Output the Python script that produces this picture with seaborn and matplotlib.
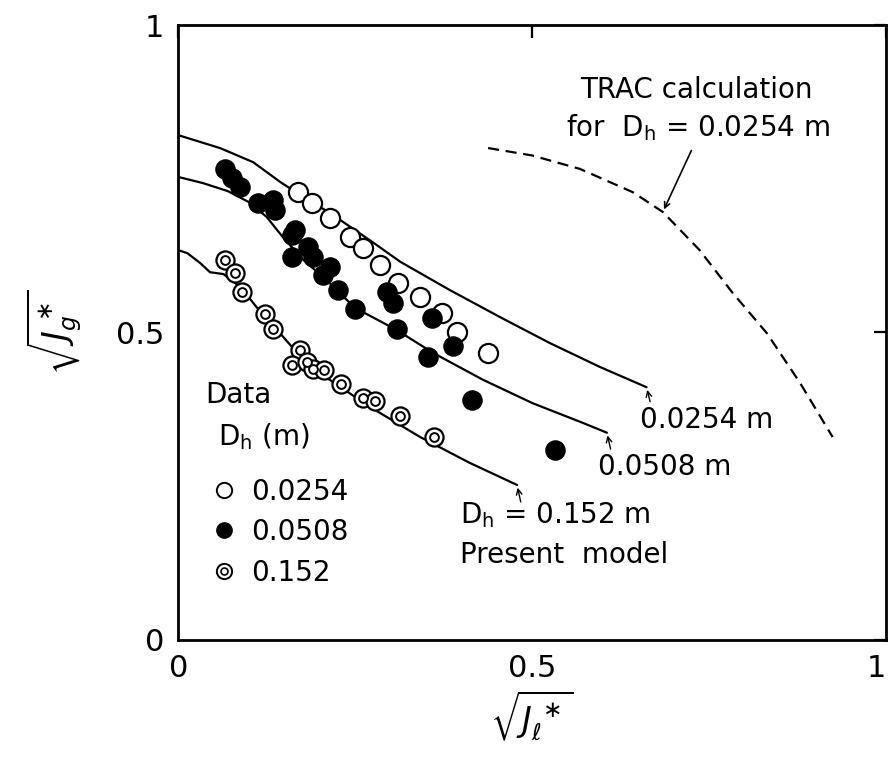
import numpy as np
import pandas as pd
import matplotlib
matplotlib.use("Agg")
import matplotlib.pyplot as plt
from matplotlib.lines import Line2D
import seaborn as sns

# ---- data ----
model_0254_x = [0, 0.059, 0.106, 0.144, 0.168, 0.215, 0.271, 0.314, 0.384, 0.455, 0.525, 0.596, 0.662]
model_0254_y = [0.821, 0.80, 0.777, 0.745, 0.727, 0.694, 0.65, 0.615, 0.569, 0.525, 0.483, 0.444, 0.411]
model_0508_x = [0, 0.035, 0.07, 0.1, 0.125, 0.148, 0.177, 0.21, 0.25, 0.309, 0.36, 0.431, 0.501, 0.572, 0.606]
model_0508_y = [0.753, 0.743, 0.73, 0.712, 0.688, 0.655, 0.618, 0.585, 0.540, 0.504, 0.467, 0.423, 0.385, 0.353, 0.337]
model_152_x = [0, 0.013, 0.031, 0.045, 0.064, 0.088, 0.111, 0.14, 0.168, 0.2, 0.271, 0.342, 0.412, 0.479]
model_152_y = [0.634, 0.629, 0.613, 0.598, 0.595, 0.574, 0.541, 0.504, 0.467, 0.434, 0.379, 0.33, 0.288, 0.252]
trac_x = [0.438, 0.5, 0.568, 0.643, 0.685, 0.737, 0.784, 0.832, 0.879, 0.925]
trac_y = [0.80, 0.788, 0.766, 0.728, 0.696, 0.634, 0.564, 0.499, 0.418, 0.33]

data_0254_x = [0.17, 0.189, 0.215, 0.243, 0.261, 0.285, 0.311, 0.342, 0.373, 0.394, 0.438]
data_0254_y = [0.729, 0.71, 0.686, 0.655, 0.637, 0.61, 0.58, 0.558, 0.532, 0.501, 0.467]
data_0508_x = [0.066, 0.076, 0.088, 0.113, 0.134, 0.137, 0.165, 0.161, 0.184, 0.191, 0.161,
               0.215, 0.205, 0.226, 0.25, 0.295, 0.304, 0.309, 0.359, 0.388, 0.353, 0.415, 0.532]
data_0508_y = [0.766, 0.751, 0.737, 0.711, 0.715, 0.699, 0.667, 0.659, 0.639, 0.623, 0.623,
               0.607, 0.593, 0.569, 0.538, 0.566, 0.548, 0.506, 0.524, 0.478, 0.46, 0.39, 0.309]
data_152_x = [0.066, 0.08, 0.09, 0.123, 0.134, 0.172, 0.161, 0.182, 0.191, 0.206, 0.23,
              0.261, 0.278, 0.314, 0.362]
data_152_y = [0.618, 0.597, 0.566, 0.53, 0.506, 0.472, 0.447, 0.452, 0.44, 0.439, 0.416,
              0.393, 0.389, 0.364, 0.33]

tick_vals = [0, 0.5, 1]
tick_labels = ["0", "0.5", "1"]
legend_labels = ["0.0254", "0.0508", "0.152"]

# ---- plotting ----
sns.set_style("white")
plt.rcParams["font.family"] = ["DejaVu Sans"]
plt.rcParams["mathtext.fontset"] = "dejavusans"
plt.rcParams["text.color"] = "black"
plt.rcParams["axes.labelcolor"] = "black"

fig = plt.figure(figsize=(8.91, 7.6), dpi=100)
ax = fig.add_axes([0.2, 0.158, 0.794, 0.809])

lw = 1.6
for xs, ys in [(model_0254_x, model_0254_y), (model_0508_x, model_0508_y), (model_152_x, model_152_y)]:
    df = pd.DataFrame({"x": xs, "y": ys})
    sns.lineplot(data=df, x="x", y="y", ax=ax, color="black", lw=lw, sort=False, estimator=None)

df_trac = pd.DataFrame({"x": trac_x, "y": trac_y})
sns.lineplot(data=df_trac, x="x", y="y", ax=ax, color="black", lw=1.6, sort=False,
             estimator=None, linestyle=(0, (5, 3)))

ms = 190
df1 = pd.DataFrame({"x": data_0254_x, "y": data_0254_y})
sns.scatterplot(data=df1, x="x", y="y", ax=ax, s=ms, facecolor="white", edgecolor="black",
                linewidth=1.6, zorder=5)
df2 = pd.DataFrame({"x": data_0508_x, "y": data_0508_y})
sns.scatterplot(data=df2, x="x", y="y", ax=ax, s=ms, color="black", edgecolor="black",
                linewidth=1.0, zorder=5)
df3 = pd.DataFrame({"x": data_152_x, "y": data_152_y})
sns.scatterplot(data=df3, x="x", y="y", ax=ax, s=170, facecolor="white", edgecolor="black",
                linewidth=1.6, zorder=5)
sns.scatterplot(data=df3, x="x", y="y", ax=ax, s=40, facecolor="white", edgecolor="black",
                linewidth=1.4, zorder=6)

ax.set_xlim(0, 1)
ax.set_ylim(0, 1)
ax.set_xticks(tick_vals)
ax.set_xticklabels(tick_labels)
ax.set_yticks(tick_vals)
ax.set_yticklabels(tick_labels)
ax.tick_params(direction="in", length=9, width=1.6, labelsize=22, top=True, right=True,
               color="black", labelcolor="black", pad=10)
ax.get_xticklabels()[-1].set_ha("right")
for sp in ax.spines.values():
    sp.set_visible(True)
    sp.set_color("black")
    sp.set_linewidth(2.0)

ax.set_xlabel(r"$\sqrt{J_{\ell}^{\,\ast}}$", fontsize=24, labelpad=4)
ax.set_ylabel(r"$\sqrt{J_{g}^{\,\ast}}$", fontsize=24, labelpad=22)

fs = 20
ax.text(0.732, 0.894, "TRAC calculation", fontsize=fs, ha="center", va="center")
ax.text(0.735, 0.833, r"for  D$_\mathregular{h}$ = 0.0254 m", fontsize=fs, ha="center", va="center")
ax.annotate("", xy=(0.685, 0.696), xytext=(0.727, 0.8),
            arrowprops=dict(arrowstyle="->", lw=1.2, color="black"))

ax.text(0.653, 0.358, "0.0254 m", fontsize=fs, ha="left", va="center")
ax.text(0.593, 0.281, "0.0508 m", fontsize=fs, ha="left", va="center")
ax.text(0.398, 0.203, r"D$_\mathregular{h}$ = 0.152 m", fontsize=fs, ha="left", va="center")
ax.text(0.398, 0.138, "Present  model", fontsize=fs, ha="left", va="center")
for (hx, hy), (tx, ty) in [((0.662, 0.411), (0.668, 0.383)),
                           ((0.606, 0.337), (0.612, 0.306)),
                           ((0.479, 0.252), (0.485, 0.220))]:
    ax.annotate("", xy=(hx, hy), xytext=(tx, ty),
                arrowprops=dict(arrowstyle="->", lw=1.0, color="black"))

ax.text(0.038, 0.398, "Data", fontsize=fs, ha="left", va="center")
ax.text(0.056, 0.33, r"D$_\mathregular{h}$ (m)", fontsize=fs, ha="left", va="center")

h1 = Line2D([], [], ls="none", marker="o", ms=11, mfc="white", mec="black", mew=1.4)
h2 = Line2D([], [], ls="none", marker="o", ms=11, mfc="black", mec="black", mew=1.0)
h3a = Line2D([], [], ls="none", marker="o", ms=11, mfc="white", mec="black", mew=1.4)
h3b = Line2D([], [], ls="none", marker="o", ms=5, mfc="white", mec="black", mew=1.2)
leg = ax.legend([h1, h2, (h3a, h3b)], legend_labels, loc="upper left",
                bbox_to_anchor=(0.03, 0.282), frameon=False, fontsize=fs,
                handlelength=1.0, handletextpad=0.45, labelspacing=0.45, borderaxespad=0)
for t in leg.get_texts():
    t.set_color("black")

fig.savefig("out.png", dpi=100)
